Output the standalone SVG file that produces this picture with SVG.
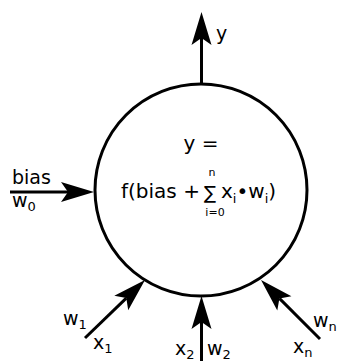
<svg xmlns="http://www.w3.org/2000/svg" width="337" height="361" viewBox="0 0 337 361">
<style>
text{font-family:"DejaVu Sans",sans-serif;fill:#000}
.t{font-size:19px}
.s{font-size:13px}
.m{font-size:20px}
.lim{font-size:11px}
.line{stroke:#000;stroke-width:3;fill:none}
</style>
<defs>
<marker id="ah" markerUnits="userSpaceOnUse" orient="auto" refX="0" refY="0" markerWidth="40" markerHeight="30" viewBox="-10 -12 40 24" overflow="visible">
<path d="M26,0 L-7,-10 L0,0 L-7,10 Z" fill="#000"/>
</marker>
</defs>
<rect width="337" height="361" fill="#fff"/>
<g id="neuron">
<circle cx="201" cy="190" r="106" fill="#fff" stroke="#000" stroke-width="3"/>
<text class="m" x="201" y="150" text-anchor="middle">y =</text>
<text class="m" x="121" y="198">f(bias +</text>
<text x="204" y="199" style="font-size:18px">∑</text>
<text class="lim" x="212" y="176" text-anchor="middle">n</text>
<text class="lim" x="215" y="216" text-anchor="middle">i=0</text>
<text class="m" x="221" y="198">x<tspan class="s" dy="5">i</tspan><tspan dy="-5">•w</tspan><tspan class="s" dy="5">i</tspan><tspan dy="-5">)</tspan></text>
</g>
<g id="connectors">
<path class="line" d="M201.5,84 L201.5,38" marker-end="url(#ah)"/>
<path class="line" d="M10,192 L68,192" marker-end="url(#ah)"/>
<path class="line" d="M201.5,361 L201.5,322" marker-end="url(#ah)"/>
<path class="line" d="M85,338 L126.3,298.1" marker-end="url(#ah)"/>
<path class="line" d="M320,339 L279.4,298.4" marker-end="url(#ah)"/>
</g>
<g id="output-y"><text class="t" x="216" y="40">y</text></g>
<g id="bias">
<text class="t" x="12" y="184">bias</text>
<text class="t" x="12" y="207">w<tspan class="s" dy="4">0</tspan></text>
</g>
<g id="input-1">
<text class="t" x="63" y="325">w<tspan class="s" dy="4">1</tspan></text>
<text class="t" x="93" y="349">x<tspan class="s" dy="4">1</tspan></text>
</g>
<g id="input-2">
<text class="t" x="175" y="355">x<tspan class="s" dy="4">2</tspan></text>
<text class="t" x="207" y="355">w<tspan class="s" dy="4">2</tspan></text>
</g>
<g id="input-n">
<text class="t" x="313" y="327">w<tspan class="s" dy="4">n</tspan></text>
<text class="t" x="293" y="353">x<tspan class="s" dy="4">n</tspan></text>
</g>
</svg>
